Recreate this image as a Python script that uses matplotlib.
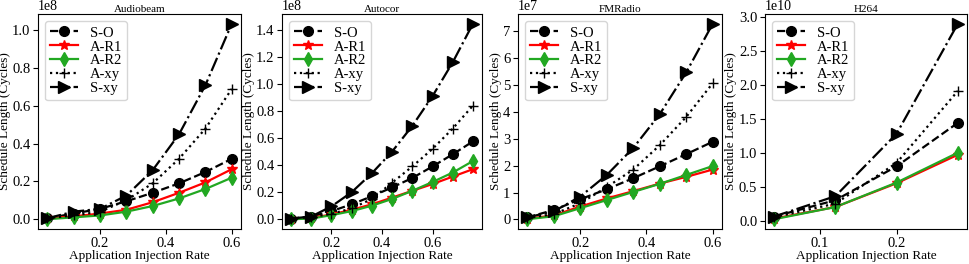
import matplotlib
matplotlib.use("Agg")
import matplotlib.pyplot as plt
import numpy as np

plt.rcParams['font.family'] = ['Liberation Serif', 'DejaVu Serif']
plt.rcParams['mathtext.fontset'] = 'stix'

# data
titles = ["Audiobeam", "Autocor", "FMRadio", "H264"]
x_audiobeam = [0.04, 0.12, 0.20, 0.28, 0.36, 0.44, 0.52, 0.60]
x_autocor = [0.04, 0.12, 0.20, 0.28, 0.36, 0.44, 0.52, 0.60, 0.68, 0.76]
x_fmradio = [0.04, 0.12, 0.20, 0.28, 0.36, 0.44, 0.52, 0.60]
x_h264 = [0.04, 0.12, 0.20, 0.28]

audiobeam = {
    "S-O":  [0.5e6, 3.0e6, 5.5e6, 9.5e6, 14e6, 19e6, 25e6, 32e6],
    "A-R1": [0.5e6, 1.5e6, 3.0e6, 5.0e6, 9.0e6, 14e6, 19.5e6, 26.5e6],
    "A-R2": [0.0e6, 1.0e6, 2.0e6, 4.0e6, 7.0e6, 11e6, 16e6, 22e6],
    "A-xy": [0.5e6, 2.0e6, 4.0e6, 10e6, 19e6, 32e6, 48e6, 69e6],
    "S-xy": [0.5e6, 4.0e6, 5.5e6, 12.5e6, 26e6, 45e6, 71e6, 103.5e6],
}
autocor = {
    "S-O":  [0.5e6, 2.0e6, 6.0e6, 11e6, 17e6, 23.5e6, 30.5e6, 39e6, 48e6, 57.5e6],
    "A-R1": [0.5e6, 1.0e6, 3.5e6, 7.0e6, 11e6, 16e6, 21e6, 26e6, 31.5e6, 37e6],
    "A-R2": [0.0e6, 0.5e6, 3.0e6, 6.0e6, 10e6, 15e6, 21e6, 27.5e6, 34.5e6, 43e6],
    "A-xy": [0.5e6, 1.5e6, 4.0e6, 8.0e6, 15e6, 27e6, 39e6, 52e6, 67e6, 84e6],
    "S-xy": [0.5e6, 2.0e6, 9.5e6, 20e6, 34e6, 50e6, 69e6, 91e6, 116e6, 144.5e6],
}
fmradio = {
    "S-O":  [0.8e6, 3.5e6, 7.5e6, 11.2e6, 15.3e6, 19.7e6, 24.2e6, 28.8e6],
    "A-R1": [0.3e6, 1.5e6, 4.8e6, 7.8e6, 10.5e6, 13.3e6, 15.8e6, 18.5e6],
    "A-R2": [0.1e6, 1.2e6, 4.2e6, 7.2e6, 10.2e6, 13.2e6, 16.5e6, 19.8e6],
    "A-xy": [0.5e6, 2.0e6, 6.0e6, 12e6, 18.5e6, 27.5e6, 38e6, 50.5e6],
    "S-xy": [0.8e6, 3.0e6, 8.5e6, 16.5e6, 26.5e6, 39e6, 54.5e6, 72.5e6],
}
h264 = {
    "S-O":  [0.06e10, 0.30e10, 0.80e10, 1.44e10],
    "A-R1": [0.03e10, 0.20e10, 0.55e10, 0.97e10],
    "A-R2": [0.02e10, 0.20e10, 0.56e10, 1.00e10],
    "A-xy": [0.05e10, 0.25e10, 0.85e10, 1.91e10],
    "S-xy": [0.06e10, 0.36e10, 1.28e10, 2.90e10],
}

xs = [x_audiobeam, x_autocor, x_fmradio, x_h264]
datasets = [audiobeam, autocor, fmradio, h264]
x_ticks = [[0.2, 0.4, 0.6], [0.2, 0.4, 0.6], [0.2, 0.4, 0.6], [0.1, 0.2]]
y_ticks = [np.arange(0, 1.01, 0.2) * 1e8, np.arange(0, 1.41, 0.2) * 1e8,
           np.arange(0, 8) * 1e7, np.arange(0, 3.01, 0.5) * 1e10]

styles = {
    "S-O":  dict(color="black", linestyle="--", marker="o", markersize=7),
    "A-R1": dict(color="red", linestyle="-", marker="*", markersize=7),
    "A-R2": dict(color="#22a822", linestyle="-", marker="d", markersize=7),
    "A-xy": dict(color="black", linestyle=":", marker="+", markersize=7),
    "S-xy": dict(color="black", linestyle="-.", marker=">", markersize=8),
}

fig = plt.figure(figsize=(9.69, 2.64), dpi=100)
# axes boxes in pixels: left, right
boxes = [(38, 241), (282, 482), (518, 722), (765, 967)]
for i in range(4):
    l, r = boxes[i]
    ax = fig.add_axes([l / 969, 35 / 264, (r - l) / 969, 215 / 264])
    for name, ys in datasets[i].items():
        ax.plot(xs[i], ys, label=name, linewidth=1.6, **styles[name])
    ax.set_title(titles[i], fontsize=8, pad=1)
    ax.set_xlabel("Application Injection Rate", fontsize=9.5, labelpad=0)
    ax.set_ylabel("Schedule Length (Cycles)", fontsize=9.5, labelpad=1)
    ax.set_xticks(x_ticks[i])
    ax.set_yticks(y_ticks[i])
    ax.tick_params(labelsize=10.5, pad=2)
    ax.yaxis.get_offset_text().set_fontsize(10)
    ax.legend(loc="upper left", fontsize=10.5, handlelength=1.9, borderpad=0.35,
              labelspacing=0.05, handletextpad=0.8, fancybox=True)

fig.savefig("out.png", dpi=100)
